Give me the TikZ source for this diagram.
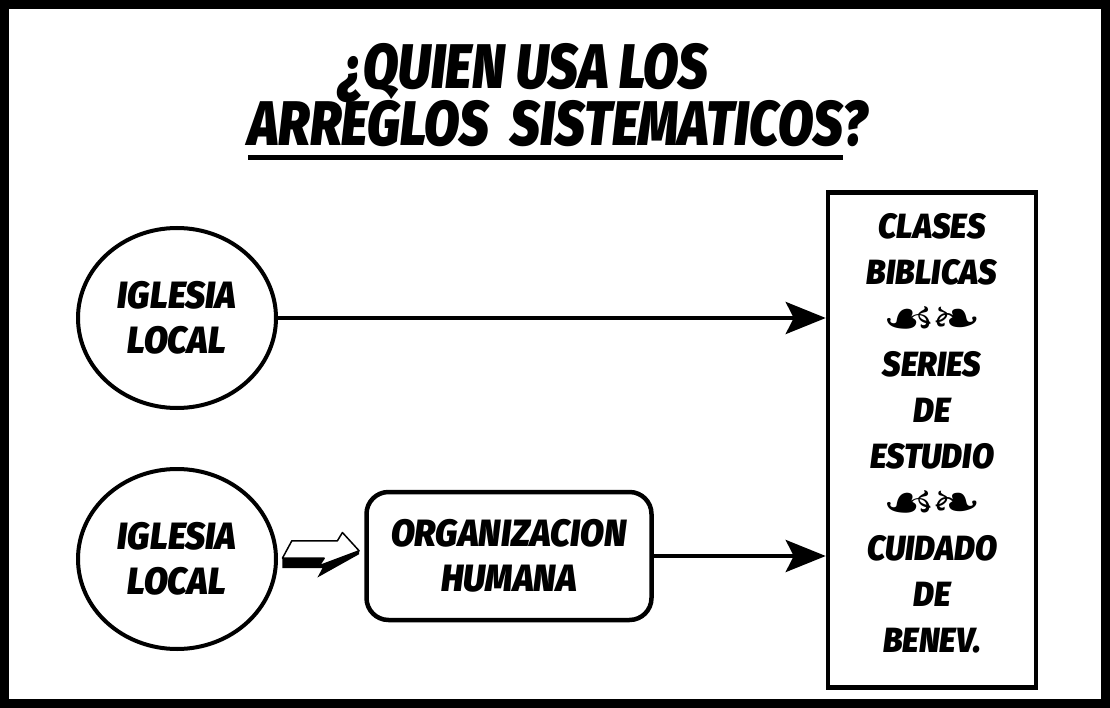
\documentclass[tikz,border=0pt]{standalone}
\usepackage{fontspec}
\setmainfont{Fira Sans}[FakeStretch=0.92,BoldItalicFont={Fira Sans Black Italic}]
\newfontfamily\titlefont{Fira Sans}[FakeStretch=0.82,BoldItalicFont={Fira Sans Black Italic}]
\newfontfamily\ornfont{DejaVu Sans}
\usetikzlibrary{arrows.meta,positioning,shapes.geometric,calc}

% thick underline under a piece of text
\newcommand{\thickunder}[1]{\setbox0=\hbox{#1}\rlap{\rule[-14pt]{\wd0}{5pt}}\box0}
\newcommand{\orn}{\raisebox{-6pt}{\scalebox{1.15}[1]{\ornfont\fontsize{52}{46}\selectfont ☙\kern-4pt❧}}}

\tikzset{
  labelfont/.style={font=\fontsize{38}{45}\selectfont\bfseries\itshape},
  church/.style={draw, ellipse, line width=4pt, minimum width=198pt, minimum height=180pt,
    inner sep=0pt, align=center, labelfont},
  orgbox/.style={draw, rounded corners=22pt, line width=4.5pt, minimum width=285pt,
    minimum height=128pt, align=center, labelfont},
  usebox/.style={draw, line width=4.5pt, minimum width=208pt, minimum height=495pt,
    align=center, font=\fontsize{35}{46}\selectfont\bfseries\itshape},
  flow/.style={line width=4pt, -{Stealth[length=40pt,width=32pt,inset=8pt]}}
}

\begin{document}
\begin{tikzpicture}[x=1pt,y=-1pt]
    \useasboundingbox (0,0) rectangle (1110,708);
    % frame
    \draw[line width=9pt] (4.5,4.5) rectangle (1105.5,703.5);

    % title
    \node (t1) at (524,73) {\titlefont\fontsize{63}{63}\selectfont\bfseries\itshape ¿QUIEN USA LOS};
    \node (t2) at (558,130) {\titlefont\fontsize{63}{63}\selectfont\bfseries\itshape \thickunder{ARREGLOS~\,SISTEMATICOS}?};

    % who uses them
    \node[church] (ig1) at (177,318) {IGLESIA\\LOCAL};
    \node[church] (ig2) at (177,559) {IGLESIA\\LOCAL};
    \node[orgbox] (org) at (509,556) {ORGANIZACION\\HUMANA};
    \node[usebox] (uses) at (932,440) {CLASES\\BIBLICAS\\\orn\\SERIES\\DE\\ESTUDIO\\\orn\\CUIDADO\\DE\\BENEV.\\[-32pt]\mbox{}};

    % arrows
    \draw[flow] (ig1.east) -- (ig1.east -| uses.west);
    \draw[flow] (org.east) -- (org.east -| uses.west);

    % fat arrow from church to organization
    \begin{scope}[shift={($(ig2.east)!0.5!(org.west)+(0,-2)$)}]
        \fill (-38.7,2.7) -- (3,2.7) -- (-2,10.3) -- (38,-4.7) -- (38,-1.3) -- (-3.7,22) -- (1.3,12.7) -- (-38.7,12.7) -- cycle;
        \draw[fill=white, line width=1.5pt, line join=round] (-38.7,2.7) -- (-29.3,-14.7) -- (16.3,-14.7) -- (21.3,-23) -- (38,-4.7) -- (-2,10.3) -- (3,2.7) -- cycle;
    \end{scope}
\end{tikzpicture}
\end{document}
